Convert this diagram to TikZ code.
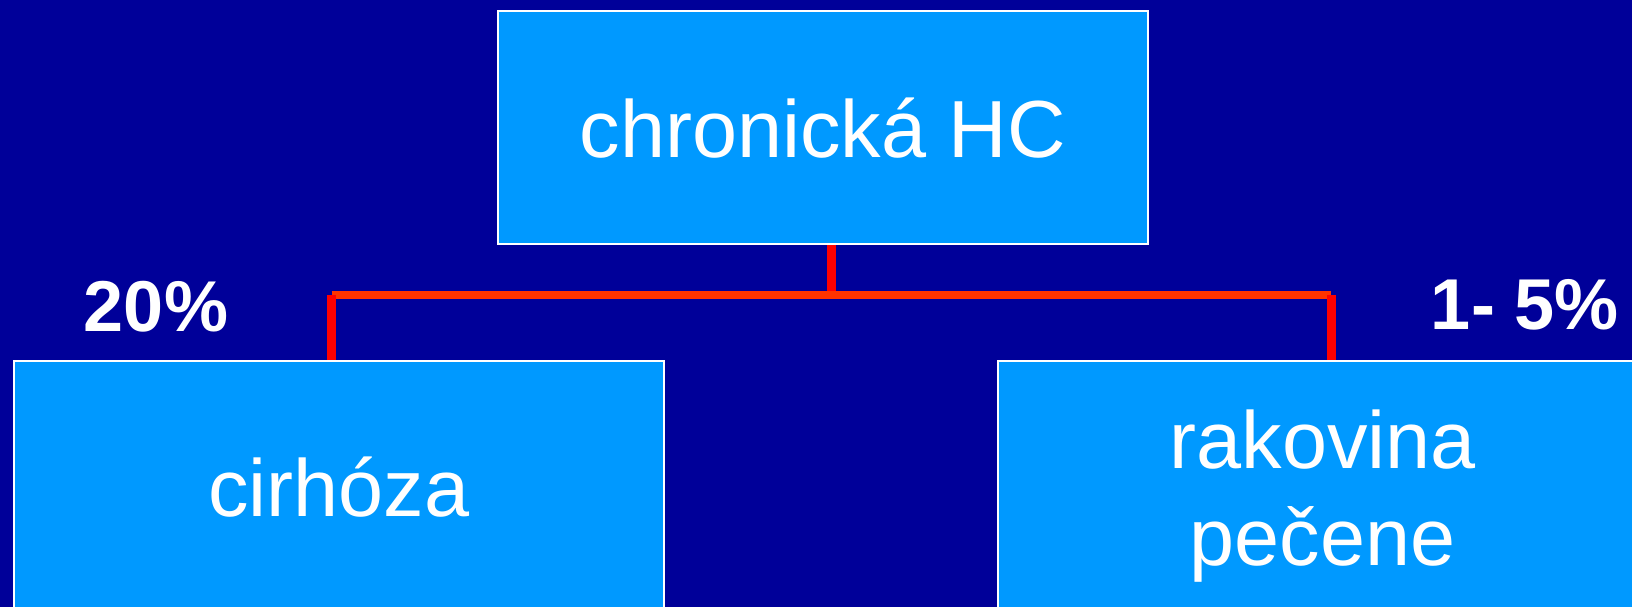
\documentclass[tikz,border=0pt]{standalone}
\usepackage{fontspec}
\setmainfont{Liberation Sans}
\usetikzlibrary{calc}
\definecolor{BackClr}{RGB}{0,0,153}
\definecolor{BoxClr}{RGB}{0,153,255}
\definecolor{StemClr}{RGB}{255,0,0}
\definecolor{BarClr}{RGB}{255,51,0}

\begin{document}
\begin{tikzpicture}[x=1pt,y=1pt,
  box/.style={draw=white,line width=2pt,fill=BoxClr,text=white,minimum width=650pt,
    inner sep=0pt,align=center,font=\fontsize{81}{97}\selectfont},
  pct/.style={text=white,anchor=base,inner sep=0pt,font=\fontsize{72}{86}\selectfont\bfseries},
  stem/.style={draw=StemClr,line width=8.7pt},
  bar/.style={draw=BarClr,line width=8.7pt}]
\useasboundingbox (0,0) rectangle (1632,607);
\fill[BackClr] (0,0) rectangle (1632,607);
\clip (0,0) rectangle (1632,607);

% boxes
\node[box,minimum height=233pt] (hc) at (822.75,479) {chronická HC};
\node[box,minimum height=253pt] (cir) at (338.75,119.5) {cirhóza};
\node[box,minimum height=253pt,text depth=0pt] (rak) at (1322.75,119.5) {rakovina\\pečene};

% junctions of the red tree
\coordinate (jt) at (831.4,312);
\coordinate (jl) at (331.5,312);
\coordinate (jr) at (1331.3,312);

\draw[stem] (hc.south -| jt) -- (jt);
\draw[bar] (jl) -- (jr);
\draw[stem] (jl) -- (jl |- cir.north);
\draw[stem] (jr) -- (jr |- rak.north);

% percentages
\node[pct] (p20) at (156,275) {20\%};
\node[pct] (p15) at (1525,277) {1- 5\%};
\end{tikzpicture}
\end{document}
